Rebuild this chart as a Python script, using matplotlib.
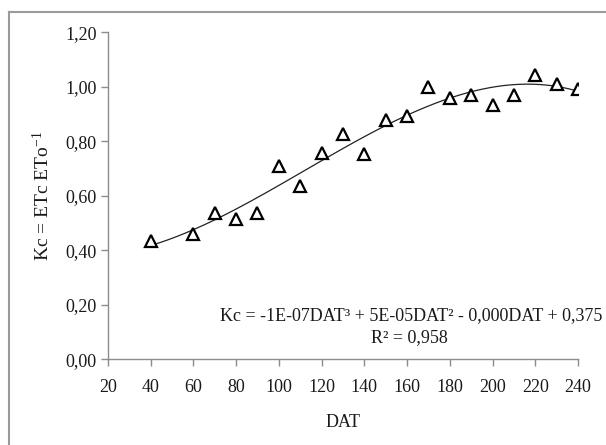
import numpy as np
import matplotlib
matplotlib.use("Agg")
import matplotlib.pyplot as plt
from matplotlib.lines import Line2D

plt.rcParams["font.family"] = ["Liberation Serif", "DejaVu Serif"]
plt.rcParams["mathtext.fontset"] = "custom"
plt.rcParams["mathtext.rm"] = "Liberation Serif"
plt.rcParams["mathtext.it"] = "Liberation Serif:italic"

# ==== data ====
dat = [40, 60, 70, 80, 90, 100, 110, 120, 130, 140,
       150, 160, 170, 180, 190, 200, 210, 220, 230, 240]
kc = [0.435, 0.46, 0.535, 0.515, 0.535, 0.71, 0.635, 0.758, 0.828, 0.753,
      0.88, 0.895, 0.998, 0.958, 0.972, 0.935, 0.972, 1.043, 1.01, 0.993]
x_ticks = [20, 40, 60, 80, 100, 120, 140, 160, 180, 200, 220, 240]
y_ticks = [0.0, 0.2, 0.4, 0.6, 0.8, 1.0, 1.2]
y_tick_labels = ["0,00", "0,20", "0,40", "0,60", "0,80", "1,00", "1,20"]

GRAY = "#8c8c8c"
TXT = "#1a1a1a"

fig = plt.figure(figsize=(6.06, 4.45), dpi=100)
ax = fig.add_axes([0.178, 0.193, 0.776, 0.734])

# cubic trend line fitted to the points
coef = np.polyfit(dat, kc, 3)
xs = np.linspace(min(dat), max(dat), 300)
ax.plot(xs, np.polyval(coef, xs), color="#222222", lw=0.9, zorder=2)

ax.plot(dat, kc, linestyle="none", marker="^", markersize=9,
        markerfacecolor="white", markeredgecolor="black", markeredgewidth=1.6, zorder=3)

ax.set_xlim(20, 240)
ax.set_ylim(0, 1.2)
ax.set_xticks(x_ticks)
ax.set_yticks(y_ticks)
ax.set_yticklabels(y_tick_labels)

for s in ["top", "right"]:
    ax.spines[s].set_visible(False)
for s in ["left", "bottom"]:
    ax.spines[s].set_color(GRAY)
    ax.spines[s].set_linewidth(1.0)
ax.tick_params(axis="both", direction="out", length=5, width=1.0, color=GRAY,
               labelsize=13, labelcolor=TXT)
ax.tick_params(axis="y", pad=3)
ax.tick_params(axis="x", pad=9)

ax.set_xlabel("DAT", fontsize=13, color=TXT, labelpad=13)
ax.set_ylabel("Kc = ETc ETo$^{-1}$", fontsize=14, color=TXT, labelpad=9)

ax.text(1.052, 0.132, "Kc = -1E-07DAT³ + 5E-05DAT² - 0,000DAT + 0,375",
        transform=ax.transAxes, ha="right", va="center", fontsize=13, color=TXT,
        clip_on=False)
ax.text(0.642, 0.066, "R² = 0,958", transform=ax.transAxes,
        ha="center", va="center", fontsize=13, color=TXT)

# frame of the chart area (only left and top survive in the crop)
fig.add_artist(Line2D([9 / 606, 9 / 606], [0, 1 - 12 / 445], transform=fig.transFigure,
                      color="#9a9a9a", lw=1.5))
fig.add_artist(Line2D([9 / 606, 1], [1 - 12 / 445, 1 - 12 / 445], transform=fig.transFigure,
                      color="#9a9a9a", lw=1.5))

fig.savefig("out.png", dpi=100)
